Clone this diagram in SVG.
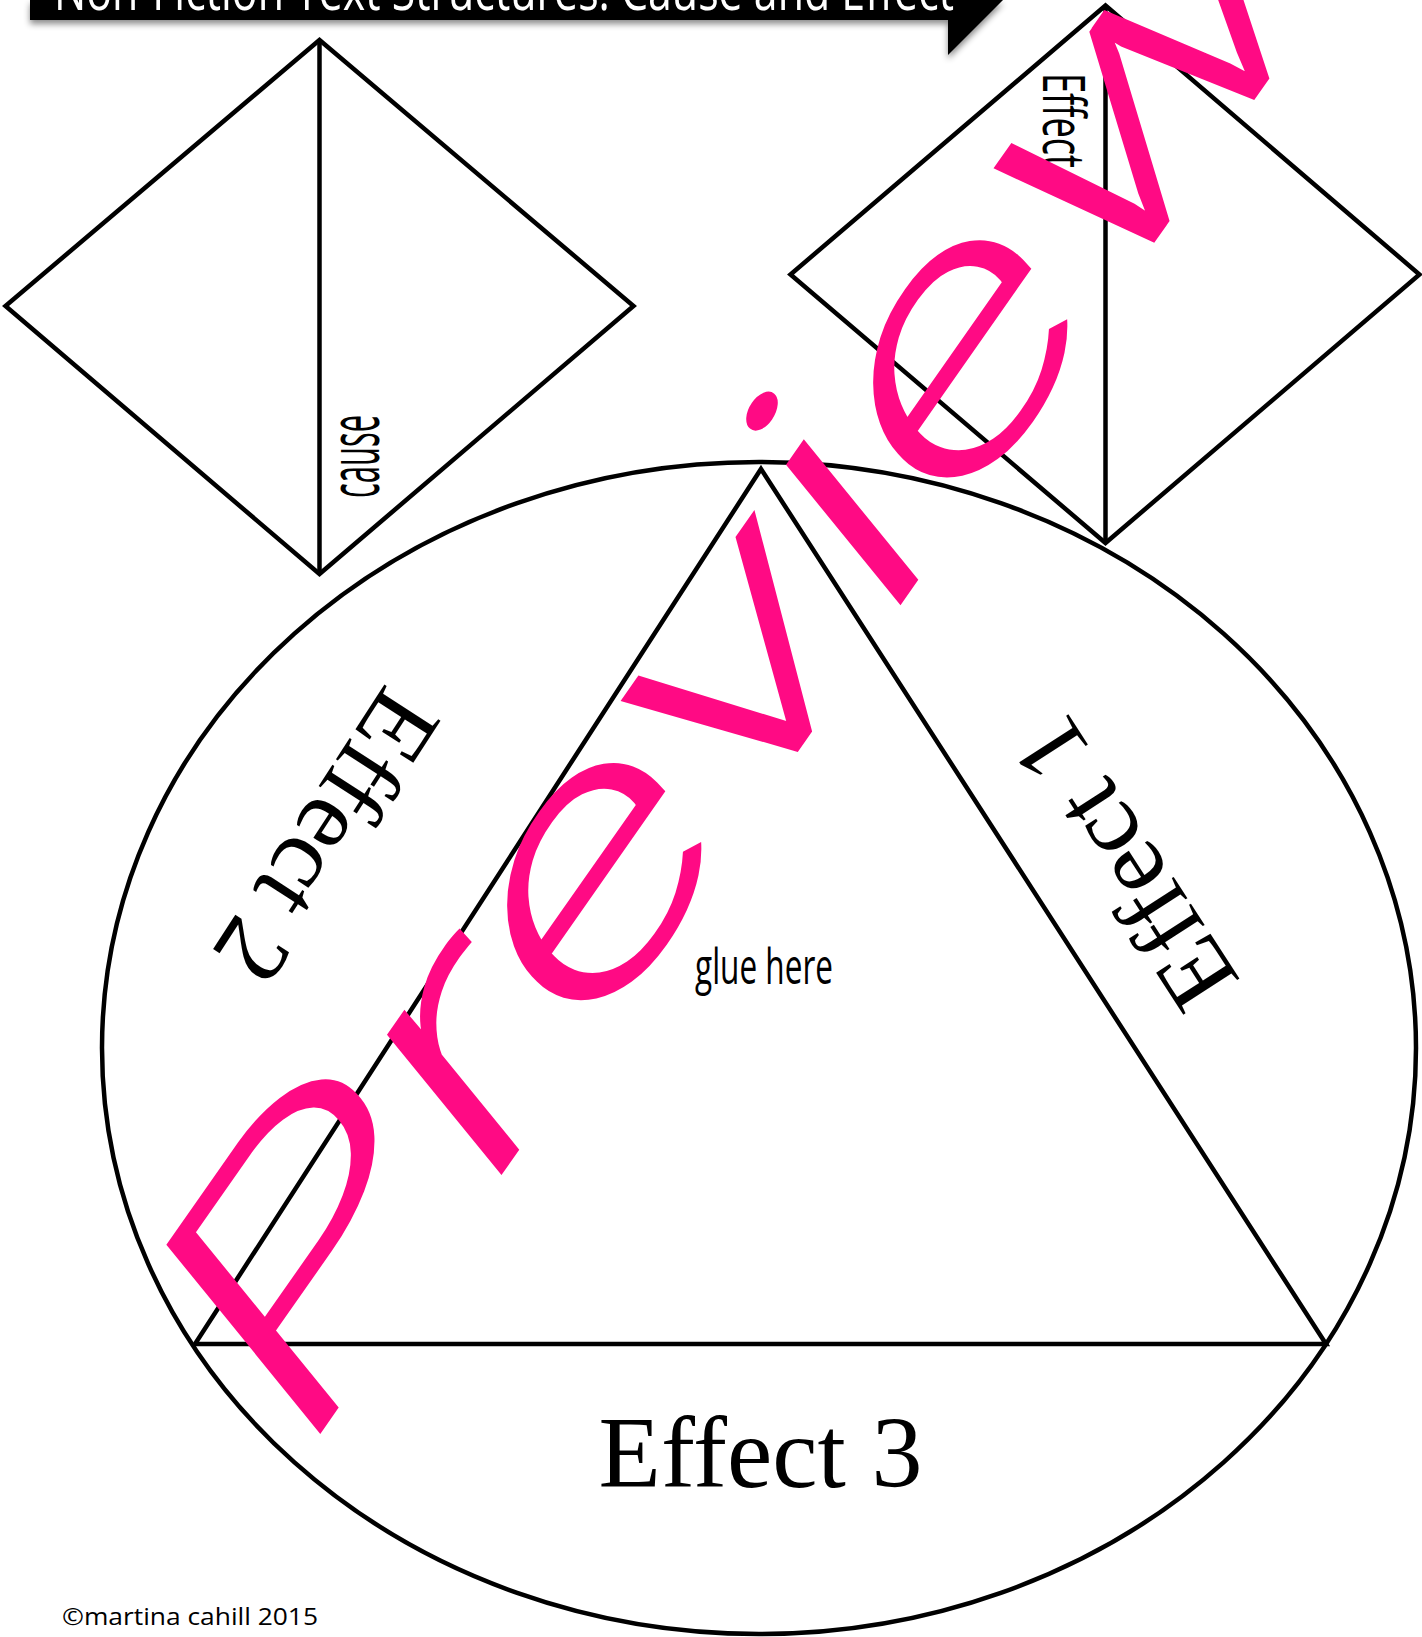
<svg xmlns="http://www.w3.org/2000/svg" width="1422" height="1637" viewBox="0 0 1422 1637">
  <defs>
    <filter id="shadow" x="-5%" y="-50%" width="110%" height="300%">
      <feDropShadow dx="0" dy="4" stdDeviation="3" flood-color="#000" flood-opacity="0.45"/>
    </filter>
  </defs>
  <style>
    .ln { fill: none; stroke: #000; stroke-width: 4.5; stroke-linejoin: miter; }
    .hand { font-family: "Open Sans", "DejaVu Sans", sans-serif; fill: #000; }
    .serif { font-family: "Liberation Serif", "Times New Roman", serif; fill: #000; font-size: 102px; }
    .wm { font-family: Roboto, "DejaVu Sans", sans-serif; fill: #FF0A84; font-size: 330px; font-style: italic; font-weight: 300; }
  </style>
  <rect width="1422" height="1637" fill="#fff"/>

  <g id="banner">
    <polygon points="30,0 1003,0 948,55 948,20 30,20" fill="#000" filter="url(#shadow)"/>
    <text x="54" y="10" class="hand" style="fill:#fff" font-size="56" textLength="900" lengthAdjust="spacingAndGlyphs">Non-Fiction Text Structures: Cause and Effect</text>
  </g>

  <g id="diamond-cause">
    <polygon class="ln" points="319.5,40 633.5,306 319.5,574 5.5,306"/>
    <line class="ln" x1="319.5" y1="40" x2="319.5" y2="574"/>
    <text class="hand" font-size="72" textLength="83" lengthAdjust="spacingAndGlyphs" transform="translate(379,498) rotate(-90)">cause</text>
  </g>

  <g id="diamond-effect">
    <polygon class="ln" points="1105.5,5.5 1419.5,274.5 1105.5,543 790.5,274.5"/>
    <line class="ln" x1="1105.5" y1="5.5" x2="1105.5" y2="543"/>
    <text class="hand" font-size="58" textLength="95" lengthAdjust="spacingAndGlyphs" transform="translate(1043,73) rotate(90)">Effect</text>
  </g>

  <g id="circle">
    <ellipse class="ln" cx="759" cy="1048" rx="657" ry="586"/>
  </g>

  <g id="triangle">
    <polygon class="ln" points="761,469 1326,1344 195,1344"/>
    <text class="hand" x="695" y="984" font-size="50" textLength="138" lengthAdjust="spacingAndGlyphs">glue here</text>
  </g>

  <g id="connectors"></g>

  <g id="labels">
    <text class="serif" text-anchor="middle" transform="translate(1153,845) rotate(-122.9)">Effect 1</text>
    <text class="serif" text-anchor="middle" transform="translate(298,818) rotate(122.9)">Effect 2</text>
    <text class="serif" text-anchor="middle" x="760.5" y="1487">Effect 3</text>
  </g>

  <g id="footer">
    <text class="hand" x="62" y="1625" font-size="24" textLength="256" lengthAdjust="spacingAndGlyphs">©martina cahill 2015</text>
  </g>

  <g id="watermark">
    <text class="wm" transform="translate(309,1450) rotate(-55)" textLength="1800" lengthAdjust="spacingAndGlyphs">Preview</text>
  </g>
</svg>
